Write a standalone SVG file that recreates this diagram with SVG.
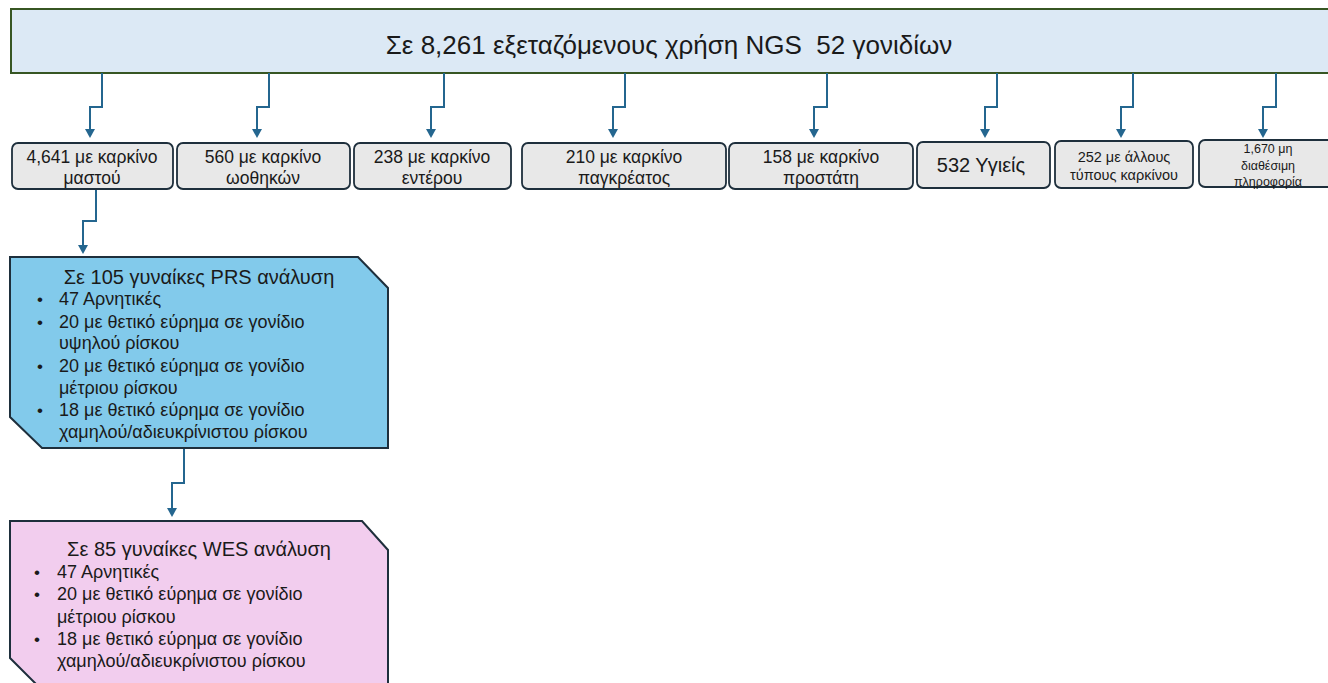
<svg xmlns="http://www.w3.org/2000/svg" width="1328" height="683" viewBox="0 0 1328 683">
<defs>
<style>
text{font-family:"Liberation Sans","Open Sans",sans-serif;fill:#1a1a1a}
.cat rect{fill:#e8e8e8;stroke:#1e2f3c;stroke-width:1.8}
.cat text{font-size:17.5px;text-anchor:middle}
.conn path{fill:none;stroke:#24668f;stroke-width:2}
.conn polygon{fill:#24668f}
.b{font-size:18px}
.d{font-size:17px}
.t{font-size:20px;text-anchor:middle}
</style>
</defs>
<rect width="1328" height="683" fill="#ffffff"/>
<g id="top">
<rect x="11" y="9" width="1330" height="64" fill="#dce9f5" stroke="#375623" stroke-width="2"/>
<text x="669" y="54" xml:space="preserve" style="font-size:26px;text-anchor:middle">Σε 8,261 εξεταζόμενους χρήση NGS  52 γονιδίων</text>
</g>
<g class="conn">
<path d="M102,73 V107 H90 V130"/><polygon points="85,129 95,129 90,138"/>
<path d="M269,73 V107 H257 V130"/><polygon points="252,129 262,129 257,138"/>
<path d="M444,73 V107 H431 V130"/><polygon points="426,129 436,129 431,138"/>
<path d="M625,73 V107 H613 V130"/><polygon points="608,129 618,129 613,138"/>
<path d="M827,73 V107 H814 V130"/><polygon points="809,129 819,129 814,138"/>
<path d="M997,73 V107 H985 V130"/><polygon points="980,129 990,129 985,138"/>
<path d="M1133,73 V107 H1121 V130"/><polygon points="1116,129 1126,129 1121,138"/>
<path d="M1276,73 V107 H1263 V130"/><polygon points="1258,129 1268,129 1263,138"/>
<path d="M96,190 V221 H83 V246"/><polygon points="78,245 88,245 83,254"/>
<path d="M184,449 V483 H172 V509"/><polygon points="167,508 177,508 172,517"/>
</g>
<g id="c1" class="cat"><rect x="12" y="143" width="161" height="46" rx="6"/><text x="92" y="163">4,641 με καρκίνο</text><text x="92" y="184">μαστού</text></g>
<g id="c2" class="cat"><rect x="177" y="143" width="173" height="46" rx="6"/><text x="263" y="163">560 με καρκίνο</text><text x="263" y="184">ωοθηκών</text></g>
<g id="c3" class="cat"><rect x="354" y="143" width="157" height="46" rx="6"/><text x="432" y="163">238 με καρκίνο</text><text x="432" y="184">εντέρου</text></g>
<g id="c4" class="cat"><rect x="522" y="143" width="204" height="46" rx="6"/><text x="624" y="163">210 με καρκίνο</text><text x="624" y="184">παγκρέατος</text></g>
<g id="c5" class="cat"><rect x="729" y="143" width="184" height="46" rx="6"/><text x="821" y="163">158 με καρκίνο</text><text x="821" y="184">προστάτη</text></g>
<g id="c6" class="cat"><rect x="917" y="142" width="133" height="46" rx="6"/><text x="981" y="172" style="font-size:20px">532 Υγιείς</text></g>
<g id="c7" class="cat"><rect x="1055" y="141" width="138" height="47" rx="6"/><text x="1124" y="162" style="font-size:14.5px">252 με άλλους</text><text x="1124" y="180" style="font-size:14.5px">τύπους καρκίνου</text></g>
<g id="c8" class="cat"><rect x="1199" y="140" width="140" height="47" rx="6"/><text x="1268" y="153" style="font-size:12.5px">1,670 μη</text><text x="1268" y="170" style="font-size:12.5px">διαθέσιμη</text><text x="1268" y="186" style="font-size:12.5px">πληροφορία</text></g>
<g id="prs">
<path d="M10,257 H358 L388,288 V448 H42 L10,417 Z" fill="#82caeb" stroke="#1e2f3c" stroke-width="2"/>
<text class="t" x="199" y="284">Σε 105 γυναίκες PRS ανάλυση</text>
<g class="b">
<text class="d" x="37" y="305">•</text><text x="59" y="305">47 Αρνητικές</text>
<text class="d" x="37" y="328">•</text><text x="59" y="328">20 με θετικό εύρημα σε γονίδιο</text>
<text x="59" y="349">υψηλού ρίσκου</text>
<text class="d" x="37" y="372">•</text><text x="59" y="372">20 με θετικό εύρημα σε γονίδιο</text>
<text x="59" y="394">μέτριου ρίσκου</text>
<text class="d" x="37" y="416">•</text><text x="59" y="416">18 με θετικό εύρημα σε γονίδιο</text>
<text x="59" y="438">χαμηλού/αδιευκρίνιστου ρίσκου</text>
</g>
</g>
<g id="wes">
<path d="M10,521 H362 L388,550 V700 H52 L10,658 Z" fill="#f2cdee" stroke="#1e2f3c" stroke-width="2"/>
<text class="t" x="199" y="556">Σε 85 γυναίκες WES ανάλυση</text>
<g class="b">
<text class="d" x="34" y="578">•</text><text x="57" y="578">47 Αρνητικές</text>
<text class="d" x="34" y="600">•</text><text x="57" y="600">20 με θετικό εύρημα σε γονίδιο</text>
<text x="57" y="623">μέτριου ρίσκου</text>
<text class="d" x="34" y="645">•</text><text x="57" y="645">18 με θετικό εύρημα σε γονίδιο</text>
<text x="57" y="667">χαμηλού/αδιευκρίνιστου ρίσκου</text>
</g>
</g>
</svg>
